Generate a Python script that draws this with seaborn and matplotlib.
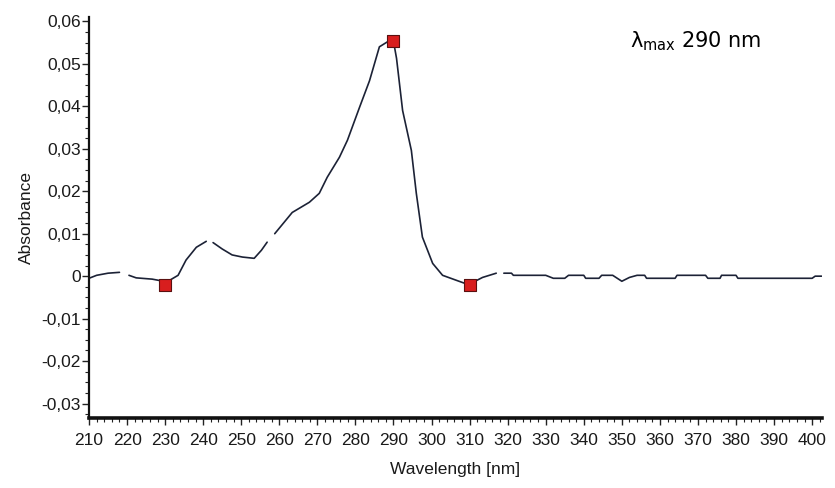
import numpy as np
import pandas as pd
import matplotlib
matplotlib.use("Agg")
import matplotlib.pyplot as plt
from matplotlib.ticker import MultipleLocator, FuncFormatter
import seaborn as sns

# UV spectrum (absorbance vs wavelength); NaN entries leave small breaks in the trace
wavelength = [210.0, 212.0, 215.0, 218.0, 219.5, 220.5, 222.4, 226.6, 229.0, 230.0,
              233.4, 235.5, 238.2, 240.8, 241.6, 242.6, 245.0, 247.6, 250.3, 253.4,
              255.3, 256.8, 257.8, 258.8, 263.4, 267.9, 270.5, 272.6, 275.8, 277.9,
              281.1, 283.7, 286.3, 289.0, 290.0, 290.8, 292.4, 294.7, 296.0, 297.6,
              300.3, 302.9, 306.6, 309.7, 313.4, 317.0, 318.0, 319.0, 321.0, 321.5,
              330.0, 332.0, 335.0, 336.0, 340.0, 340.5, 344.0, 344.7, 347.6, 350.0,
              352.0, 354.0, 356.0, 356.5, 364.0, 364.5, 372.0, 372.6, 375.8, 376.2,
              380.0, 380.5, 400.0, 400.8, 402.5]
absorbance = [-0.0005, 0.0002, 0.0007, 0.0009, np.nan, 0.0002, -0.0004, -0.0007, -0.0011, -0.0016,
              0.0002, 0.0038, 0.0068, 0.0082, np.nan, 0.0079, 0.0064, 0.0050, 0.0045, 0.0042,
              0.0061, 0.0080, np.nan, 0.0100, 0.0150, 0.0174, 0.0195, 0.0233, 0.0280, 0.0320,
              0.0398, 0.0460, 0.0540, 0.0555, 0.0553, 0.0513, 0.0390, 0.0296, 0.0195, 0.0092,
              0.0030, 0.0002, -0.0010, -0.0020, -0.0003, 0.0007, np.nan, 0.0007, 0.0007, 0.0002,
              0.0002, -0.0005, -0.0005, 0.0002, 0.0002, -0.0005, -0.0005, 0.0002, 0.0002, -0.0012,
              -0.0003, 0.0002, 0.0002, -0.0005, -0.0005, 0.0002, 0.0002, -0.0005, -0.0005, 0.0002,
              0.0002, -0.0005, -0.0005, 0.0000, 0.0000]

# picked points (minima and maximum)
peak_wavelength = [230, 290, 310]
peak_absorbance = [-0.0021, 0.0553, -0.0021]

x_ticks = list(range(210, 401, 10))
y_ticks = [-0.03, -0.02, -0.01, 0.0, 0.01, 0.02, 0.03, 0.04, 0.05, 0.06]

sns.set_style("ticks")
plt.rcParams["font.family"] = ["Liberation Sans", "DejaVu Sans"]

fig = plt.figure(figsize=(8.35, 4.88), dpi=100)
ax = fig.add_axes([0.1066, 0.1434, 0.8774, 0.8216])

spectrum = pd.DataFrame({"wavelength": wavelength, "absorbance": absorbance})
# split into contiguous pieces so that the missing points appear as gaps
spectrum["piece"] = spectrum["absorbance"].isna().cumsum()
spectrum = spectrum.dropna()
sns.lineplot(data=spectrum, x="wavelength", y="absorbance", units="piece",
             estimator=None, color="#1c2236", linewidth=1.2, ax=ax, legend=False)

peaks = pd.DataFrame({"wavelength": peak_wavelength, "absorbance": peak_absorbance})
sns.scatterplot(data=peaks, x="wavelength", y="absorbance", marker="s", s=70,
                color="#d81e1e", edgecolor="#5a1010", linewidth=0.8, ax=ax, zorder=5)

ax.set_xlim(210, 402.5)
ax.set_ylim(-0.0334, 0.061)
ax.set_xticks(x_ticks)
ax.set_yticks(y_ticks)
ax.xaxis.set_minor_locator(MultipleLocator(2))
ax.yaxis.set_minor_locator(MultipleLocator(0.0025))


def comma_fmt(v, pos):
    if abs(v) < 1e-9:
        return "0"
    return f"{v:.2f}".replace(".", ",")


ax.yaxis.set_major_formatter(FuncFormatter(comma_fmt))

for s in ("top", "right"):
    ax.spines[s].set_visible(False)
ax.spines["left"].set_linewidth(1.6)
ax.spines["bottom"].set_linewidth(2.6)
ax.spines["left"].set_color("#111111")
ax.spines["bottom"].set_color("#111111")

ax.tick_params(axis="both", which="major", length=5, width=1.0, color="#222222",
               labelsize=12.5, labelcolor="#1a1a1a", direction="out")
ax.tick_params(axis="both", which="minor", length=3, width=0.8, color="#222222",
               direction="out")
ax.tick_params(axis="x", which="major", pad=6)
ax.tick_params(axis="y", which="major", pad=1)

ax.set_xlabel("Wavelength [nm]", fontsize=12.5, color="#1a1a1a", labelpad=10)
ax.set_ylabel("Absorbance", fontsize=12.5, color="#1a1a1a", labelpad=5)

fig.text(0.755, 0.915, r"$\mathregular{λ_{max}}$ 290 nm", fontsize=15,
         family=["DejaVu Sans"], color="black", va="center", ha="left")

fig.savefig("out.png", dpi=100, facecolor="white")
